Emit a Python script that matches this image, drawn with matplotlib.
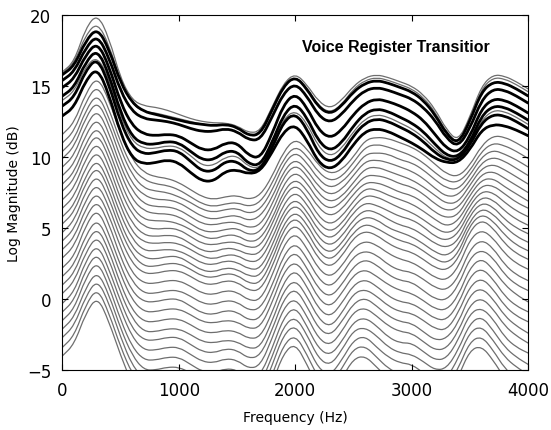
import numpy as np
import matplotlib
matplotlib.use("Agg")
import matplotlib.pyplot as plt
from matplotlib.path import Path
from matplotlib.patches import PathPatch


##########################################################

# spectral envelopes, sampled every 100 Hz from 0 to 4000 Hz

freq_hz = np.arange(0, 4001, 100)

# upper thin (grey) envelopes, around the bold ones
upper_thin = [
    [16.0, 16.7, 19.1, 20.1, 18.4, 15.5, 14.0, 13.6, 13.5, 13.3, 13.0, 12.7, 12.5, 12.4, 12.4, 12.2, 11.7, 11.8, 13.5, 15.2, 15.9,
     15.1, 13.9, 13.4, 14.0, 15.0, 15.6, 15.8, 15.6, 15.3, 15.0, 14.4, 13.4, 11.9, 11.1, 12.8, 15.0, 15.8, 15.7, 15.3, 14.8],
    [15.9, 16.6, 18.6, 19.5, 17.9, 15.3, 13.7, 13.2, 13.1, 12.9, 12.7, 12.5, 12.3, 12.2, 12.3, 12.1, 11.5, 11.5, 13.2, 15.0, 15.7,
     14.9, 13.6, 13.1, 13.7, 14.8, 15.4, 15.6, 15.4, 15.1, 14.8, 14.2, 13.2, 11.7, 10.9, 12.6, 14.8, 15.6, 15.5, 15.1, 14.6],
    [14.0, 14.6, 16.4, 17.1, 15.5, 12.8, 11.1, 10.6, 10.6, 10.8, 10.7, 10.1, 9.4, 9.4, 10.0, 10.1, 9.3, 9.2, 10.8, 12.7, 13.3,
     12.4, 10.7, 10.0, 10.6, 11.8, 12.7, 13.0, 12.8, 12.4, 12.0, 11.4, 10.6, 9.9, 9.9, 10.9, 12.6, 13.3, 13.2, 12.8, 12.3],
]

# bold (black) envelopes of the register transition
bold_curves = [
    [15.8, 16.4, 18.2, 19.1, 17.6, 15.2, 13.8, 13.2, 13.0, 12.8, 12.6, 12.4, 12.3, 12.2, 12.3, 12.1, 11.5, 11.6, 13.3, 15.0, 15.7,
     14.8, 13.5, 13.0, 13.6, 14.6, 15.2, 15.4, 15.2, 14.9, 14.6, 14.0, 13.0, 11.6, 10.9, 12.5, 14.6, 15.3, 15.2, 14.8, 14.3],
    [15.4, 16.0, 17.7, 18.6, 17.0, 14.6, 13.2, 12.7, 12.6, 12.5, 12.3, 12.0, 11.8, 11.8, 12.0, 11.8, 11.2, 11.2, 12.8, 14.5, 15.2,
     14.3, 12.9, 12.4, 13.0, 14.0, 14.7, 14.9, 14.7, 14.4, 14.1, 13.5, 12.6, 11.3, 10.7, 12.0, 14.0, 14.8, 14.7, 14.3, 13.8],
    [14.9, 15.5, 17.2, 18.1, 16.4, 13.8, 12.2, 11.6, 11.5, 11.6, 11.5, 11.0, 10.5, 10.5, 11.0, 11.0, 10.1, 9.9, 11.6, 13.7, 14.5,
     13.5, 11.9, 11.3, 11.9, 13.0, 13.8, 14.1, 13.9, 13.6, 13.2, 12.6, 11.6, 10.6, 10.3, 11.4, 13.4, 14.1, 14.0, 13.6, 13.1],
    [14.3, 14.9, 16.7, 17.6, 15.8, 13.1, 11.4, 10.9, 10.9, 11.1, 11.0, 10.4, 9.8, 9.8, 10.4, 10.4, 9.5, 9.4, 11.0, 13.0, 13.8,
     12.8, 11.1, 10.4, 11.0, 12.2, 13.1, 13.4, 13.2, 12.8, 12.4, 11.8, 10.9, 10.1, 10.0, 11.0, 12.9, 13.6, 13.5, 13.1, 12.6],
    [13.6, 14.2, 16.1, 17.0, 15.1, 12.4, 10.7, 10.2, 10.3, 10.5, 10.4, 9.7, 9.0, 9.0, 9.7, 9.7, 9.0, 9.1, 10.6, 12.5, 13.1,
     12.0, 10.2, 9.6, 10.2, 11.5, 12.4, 12.7, 12.5, 12.1, 11.7, 11.1, 10.3, 9.8, 9.8, 10.8, 12.4, 13.0, 12.9, 12.5, 12.0],
    [12.9, 13.5, 15.4, 16.3, 14.4, 11.6, 9.9, 9.5, 9.6, 9.8, 9.6, 8.9, 8.3, 8.3, 9.0, 9.1, 8.8, 9.0, 10.3, 11.8, 12.3,
     11.2, 9.6, 9.1, 9.7, 10.9, 11.8, 12.0, 11.8, 11.4, 11.0, 10.5, 9.9, 9.6, 9.6, 10.5, 11.9, 12.3, 12.2, 11.9, 11.5],
]

# lower thin envelopes: one row per frequency, one column per envelope (top to bottom)
thin_levels = [
    [11.6, 11.0, 10.4, 9.9, 9.3, 8.7, 8.1, 7.6, 7.0, 6.4, 5.8, 5.3, 4.7, 4.1, 3.5, 2.9, 2.2, 1.6, 1.0, 0.4, -0.3, -0.9, -1.5, -2.1, -2.7, -3.4, -4.0],
    [12.4, 11.8, 11.2, 10.7, 10.1, 9.5, 8.9, 8.4, 7.8, 7.2, 6.6, 6.1, 5.5, 4.9, 4.3, 3.7, 3.0, 2.4, 1.8, 1.2, 0.5, -0.1, -0.7, -1.3, -1.9, -2.6, -3.2],
    [14.5, 13.9, 13.3, 12.8, 12.2, 11.6, 11.0, 10.5, 9.9, 9.3, 8.7, 8.2, 7.6, 7.0, 6.4, 5.8, 5.2, 4.5, 3.9, 3.3, 2.7, 2.1, 1.5, 0.8, 0.2, -0.4, -1.0],
    [15.7, 15.1, 14.5, 14.0, 13.4, 12.8, 12.2, 11.7, 11.1, 10.5, 9.9, 9.4, 8.8, 8.2, 7.6, 7.0, 6.4, 5.7, 5.1, 4.5, 3.9, 3.3, 2.7, 2.0, 1.4, 0.8, 0.2],
    [14.0, 13.4, 12.8, 12.3, 11.7, 11.1, 10.5, 10.0, 9.4, 8.8, 8.2, 7.7, 7.1, 6.5, 5.9, 5.3, 4.6, 4.0, 3.4, 2.8, 2.1, 1.5, 0.9, 0.3, -0.3, -1.0, -1.6],
    [11.6, 11.0, 10.5, 9.9, 9.3, 8.8, 8.2, 7.6, 7.0, 6.5, 5.9, 5.3, 4.8, 4.2, 3.6, 2.9, 2.3, 1.7, 1.0, 0.4, -0.2, -0.8, -1.5, -2.1, -2.7, -3.4, -4.0],
    [9.8, 9.2, 8.7, 8.1, 7.6, 7.0, 6.4, 5.9, 5.3, 4.7, 4.2, 3.6, 3.1, 2.5, 1.8, 1.2, 0.5, -0.1, -0.8, -1.4, -2.1, -2.7, -3.4, -4.0, -4.7, -5.3, -6.0],
    [8.9, 8.4, 7.8, 7.3, 6.7, 6.2, 5.6, 5.1, 4.5, 4.0, 3.4, 2.9, 2.3, 1.8, 1.1, 0.4, -0.2, -0.9, -1.6, -2.3, -2.9, -3.6, -4.3, -5.0, -5.6, -6.3, -7.0],
    [8.6, 8.1, 7.6, 7.0, 6.5, 6.0, 5.5, 4.9, 4.4, 3.9, 3.4, 2.8, 2.3, 1.8, 1.1, 0.4, -0.2, -0.9, -1.6, -2.3, -2.9, -3.6, -4.3, -5.0, -5.6, -6.3, -7.0],
    [8.5, 8.0, 7.5, 7.0, 6.5, 6.0, 5.5, 5.0, 4.5, 4.0, 3.5, 3.0, 2.5, 2.0, 1.3, 0.6, 0.0, -0.7, -1.4, -2.1, -2.7, -3.4, -4.1, -4.8, -5.4, -6.1, -6.8],
    [8.2, 7.7, 7.2, 6.8, 6.3, 5.8, 5.3, 4.9, 4.4, 3.9, 3.4, 3.0, 2.5, 2.0, 1.3, 0.6, 0.0, -0.7, -1.4, -2.1, -2.7, -3.4, -4.1, -4.8, -5.4, -6.1, -6.8],
    [7.7, 7.2, 6.8, 6.3, 5.8, 5.3, 4.9, 4.4, 3.9, 3.5, 3.0, 2.5, 2.1, 1.6, 0.9, 0.2, -0.5, -1.1, -1.8, -2.5, -3.2, -3.9, -4.6, -5.2, -5.9, -6.6, -7.3],
    [7.2, 6.7, 6.3, 5.8, 5.3, 4.8, 4.4, 3.9, 3.4, 3.0, 2.5, 2.0, 1.6, 1.1, 0.4, -0.3, -1.0, -1.6, -2.3, -3.0, -3.7, -4.4, -5.1, -5.7, -6.4, -7.1, -7.8],
    [7.0, 6.5, 6.1, 5.6, 5.2, 4.7, 4.2, 3.8, 3.3, 2.8, 2.4, 1.9, 1.5, 1.0, 0.3, -0.4, -1.1, -1.7, -2.4, -3.1, -3.8, -4.5, -5.2, -5.9, -6.5, -7.2, -7.9],
    [7.2, 6.7, 6.3, 5.8, 5.4, 4.9, 4.5, 4.0, 3.6, 3.1, 2.7, 2.2, 1.8, 1.3, 0.6, -0.1, -0.8, -1.5, -2.2, -2.9, -3.5, -4.2, -4.9, -5.6, -6.3, -7.0, -7.7],
    [7.3, 6.8, 6.4, 5.9, 5.4, 5.0, 4.5, 4.0, 3.5, 3.1, 2.6, 2.1, 1.7, 1.2, 0.5, -0.2, -0.9, -1.6, -2.3, -3.0, -3.6, -4.3, -5.0, -5.7, -6.4, -7.1, -7.8],
    [7.0, 6.5, 6.0, 5.5, 5.0, 4.5, 4.0, 3.6, 3.1, 2.6, 2.1, 1.6, 1.1, 0.6, -0.1, -0.8, -1.5, -2.1, -2.8, -3.5, -4.2, -4.9, -5.6, -6.2, -6.9, -7.6, -8.3],
    [7.3, 6.8, 6.3, 5.8, 5.2, 4.7, 4.2, 3.7, 3.2, 2.7, 2.1, 1.6, 1.1, 0.6, -0.1, -0.7, -1.4, -2.0, -2.7, -3.4, -4.0, -4.7, -5.4, -6.0, -6.7, -7.3, -8.0],
    [8.6, 8.1, 7.6, 7.1, 6.6, 6.1, 5.6, 5.2, 4.7, 4.2, 3.7, 3.2, 2.7, 2.2, 1.6, 0.9, 0.3, -0.3, -1.0, -1.6, -2.2, -2.8, -3.5, -4.1, -4.7, -5.4, -6.0],
    [10.4, 9.9, 9.5, 9.0, 8.6, 8.1, 7.6, 7.2, 6.7, 6.2, 5.8, 5.3, 4.9, 4.4, 3.8, 3.1, 2.5, 1.9, 1.2, 0.6, 0.0, -0.6, -1.3, -1.9, -2.5, -3.2, -3.8],
    [11.3, 10.8, 10.4, 9.9, 9.5, 9.0, 8.5, 8.1, 7.6, 7.1, 6.7, 6.2, 5.8, 5.3, 4.7, 4.0, 3.4, 2.7, 2.1, 1.4, 0.8, 0.1, -0.5, -1.2, -1.8, -2.5, -3.1],
    [10.6, 10.1, 9.6, 9.1, 8.7, 8.2, 7.7, 7.2, 6.7, 6.2, 5.8, 5.3, 4.8, 4.3, 3.6, 2.9, 2.2, 1.6, 0.9, 0.2, -0.5, -1.2, -1.9, -2.5, -3.2, -3.9, -4.6],
    [9.4, 8.9, 8.4, 7.9, 7.4, 6.9, 6.4, 5.8, 5.3, 4.8, 4.3, 3.8, 3.3, 2.8, 2.1, 1.4, 0.7, 0.0, -0.7, -1.4, -2.1, -2.8, -3.5, -4.2, -4.9, -5.6, -6.3],
    [8.8, 8.3, 7.8, 7.3, 6.8, 6.3, 5.8, 5.2, 4.7, 4.2, 3.7, 3.2, 2.7, 2.2, 1.5, 0.8, 0.1, -0.6, -1.3, -2.0, -2.6, -3.3, -4.0, -4.7, -5.4, -6.1, -6.8],
    [9.1, 8.6, 8.2, 7.7, 7.2, 6.8, 6.3, 5.8, 5.3, 4.9, 4.4, 3.9, 3.5, 3.0, 2.3, 1.7, 1.0, 0.4, -0.3, -1.0, -1.6, -2.3, -3.0, -3.6, -4.3, -4.9, -5.6],
    [10.0, 9.6, 9.1, 8.7, 8.2, 7.8, 7.4, 6.9, 6.5, 6.1, 5.6, 5.2, 4.7, 4.3, 3.6, 3.0, 2.3, 1.7, 1.0, 0.4, -0.3, -0.9, -1.6, -2.2, -2.9, -3.5, -4.2],
    [11.2, 10.7, 10.2, 9.7, 9.2, 8.7, 8.2, 7.8, 7.3, 6.8, 6.3, 5.8, 5.3, 4.8, 4.1, 3.4, 2.8, 2.1, 1.4, 0.7, 0.1, -0.6, -1.3, -2.0, -2.6, -3.3, -4.0],
    [11.4, 10.9, 10.3, 9.8, 9.3, 8.7, 8.2, 7.7, 7.2, 6.6, 6.1, 5.6, 5.0, 4.5, 3.8, 3.1, 2.4, 1.6, 0.9, 0.2, -0.5, -1.2, -1.9, -2.6, -3.4, -4.1, -4.8],
    [11.3, 10.7, 10.2, 9.6, 9.0, 8.5, 7.9, 7.3, 6.8, 6.2, 5.6, 5.0, 4.5, 3.9, 3.2, 2.4, 1.7, 1.0, 0.2, -0.5, -1.2, -1.9, -2.7, -3.4, -4.1, -4.9, -5.6],
    [11.0, 10.4, 9.8, 9.3, 8.7, 8.1, 7.5, 7.0, 6.4, 5.8, 5.2, 4.7, 4.1, 3.5, 2.8, 2.0, 1.3, 0.6, -0.2, -0.9, -1.6, -2.3, -3.1, -3.8, -4.5, -5.3, -6.0],
    [10.7, 10.1, 9.6, 9.0, 8.4, 7.9, 7.3, 6.7, 6.1, 5.6, 5.0, 4.4, 3.9, 3.3, 2.6, 1.9, 1.2, 0.4, -0.3, -1.0, -1.7, -2.4, -3.1, -3.9, -4.6, -5.3, -6.0],
    [10.2, 9.6, 9.1, 8.5, 7.9, 7.4, 6.8, 6.2, 5.6, 5.1, 4.5, 3.9, 3.4, 2.8, 2.1, 1.4, 0.6, -0.1, -0.8, -1.5, -2.3, -3.0, -3.7, -4.4, -5.2, -5.9, -6.6],
    [9.5, 8.9, 8.4, 7.8, 7.3, 6.7, 6.1, 5.6, 5.0, 4.4, 3.9, 3.3, 2.8, 2.2, 1.5, 0.8, 0.0, -0.7, -1.4, -2.1, -2.9, -3.6, -4.3, -5.0, -5.8, -6.5, -7.2],
    [8.8, 8.3, 7.8, 7.2, 6.7, 6.2, 5.7, 5.1, 4.6, 4.1, 3.6, 3.0, 2.5, 2.0, 1.3, 0.6, -0.1, -0.8, -1.5, -2.2, -2.8, -3.5, -4.2, -4.9, -5.6, -6.3, -7.0],
    [8.6, 8.2, 7.7, 7.3, 6.8, 6.4, 5.9, 5.5, 5.0, 4.6, 4.1, 3.7, 3.2, 2.8, 2.2, 1.5, 0.9, 0.2, -0.4, -1.0, -1.7, -2.3, -2.9, -3.6, -4.2, -4.9, -5.5],
    [9.4, 9.0, 8.7, 8.3, 8.0, 7.6, 7.3, 6.9, 6.6, 6.2, 5.9, 5.5, 5.2, 4.8, 4.2, 3.5, 2.9, 2.2, 1.6, 0.9, 0.3, -0.4, -1.0, -1.7, -2.3, -3.0, -3.6],
    [10.8, 10.4, 10.0, 9.6, 9.2, 8.8, 8.4, 8.0, 7.6, 7.2, 6.8, 6.4, 6.0, 5.6, 4.9, 4.2, 3.5, 2.9, 2.2, 1.5, 0.8, 0.1, -0.6, -1.2, -1.9, -2.6, -3.3],
    [11.5, 11.0, 10.5, 10.0, 9.5, 9.0, 8.5, 8.0, 7.5, 7.0, 6.5, 6.0, 5.5, 5.0, 4.3, 3.6, 2.9, 2.1, 1.4, 0.7, 0.0, -0.7, -1.4, -2.2, -2.9, -3.6, -4.3],
    [11.4, 10.8, 10.2, 9.7, 9.1, 8.5, 7.9, 7.4, 6.8, 6.2, 5.6, 5.1, 4.5, 3.9, 3.2, 2.4, 1.7, 1.0, 0.2, -0.5, -1.2, -1.9, -2.7, -3.4, -4.1, -4.9, -5.6],
    [11.0, 10.4, 9.8, 9.2, 8.6, 8.0, 7.4, 6.8, 6.2, 5.6, 5.0, 4.4, 3.8, 3.2, 2.5, 1.7, 1.0, 0.3, -0.5, -1.2, -1.9, -2.6, -3.4, -4.1, -4.8, -5.6, -6.3],
    [10.5, 9.9, 9.3, 8.7, 8.1, 7.5, 6.9, 6.4, 5.8, 5.2, 4.6, 4.0, 3.4, 2.8, 2.1, 1.3, 0.6, -0.2, -0.9, -1.6, -2.4, -3.1, -3.8, -4.6, -5.3, -6.1, -6.8],
]

x_ticks = [0, 1000, 2000, 3000, 4000]
y_ticks = [-5, 0, 5, 10, 15, 20]


############################################################

# draw one envelope as a smooth path through the axes (quadratic segments)
def draw_envelope(ax, x, y, color, width):
    pts = np.column_stack([x, y])
    mids = (pts[:-1] + pts[1:]) / 2
    verts = [pts[0], mids[0]]
    codes = [Path.MOVETO, Path.LINETO]
    for i in range(1, len(pts) - 1):
        verts += [pts[i], mids[i]]
        codes += [Path.CURVE3, Path.CURVE3]
    verts.append(pts[-1])
    codes.append(Path.LINETO)
    ax.add_patch(PathPatch(Path(verts, codes), fill=False, edgecolor=color,
                           linewidth=width, capstyle="round", joinstyle="round"))


fig = plt.figure(figsize=(5.51, 4.31), dpi=100)
ax = fig.add_axes([0.1134, 0.1392, 0.8449, 0.8237])

thin = np.array(thin_levels)
for j in range(thin.shape[1]):
    draw_envelope(ax, freq_hz, thin[:, j], "#6e6e6e", 0.9)

for curve in upper_thin:
    draw_envelope(ax, freq_hz, curve, "#6e6e6e", 0.9)

for curve in bold_curves:
    draw_envelope(ax, freq_hz, curve, "black", 2.0)

ax.set_xlim(0, 4000)
ax.set_ylim(-5, 20)
ax.set_xticks(x_ticks)
ax.set_yticks(y_ticks)
ax.tick_params(direction="in", length=4, top=True, right=True, labelsize=12, pad=8)

ax.set_xlabel("Frequency (Hz)", fontsize=10, labelpad=8)
ax.set_ylabel("Log Magnitude (dB)", fontsize=10, labelpad=4)

ax.text(2060, 17.8, "Voice Register Transitior", fontsize=11.5, fontweight="bold",
        family="Liberation Sans", ha="left", va="center")

fig.savefig("out.png", dpi=100)
